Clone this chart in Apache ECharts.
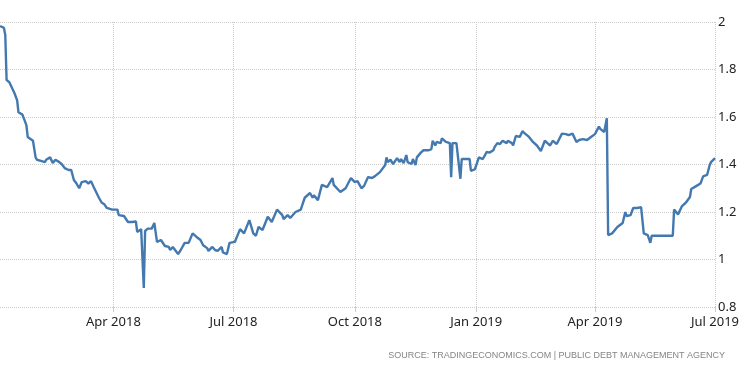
<!DOCTYPE html>
<html>
<head>
<meta charset="utf-8">
<script src="https://cdn.jsdelivr.net/npm/echarts@6/dist/echarts.min.js"></script>
<style>html,body{margin:0;padding:0;background:#fff;}#c{width:750px;height:373px;}</style>
</head>
<body>
<div id="c"></div>
<script>
const dates = [
 '2018-01-05','2018-01-08','2018-01-09','2018-01-10','2018-01-12','2018-01-16','2018-01-18','2018-01-19','2018-01-22','2018-01-25',
 '2018-01-26','2018-01-30','2018-02-01','2018-02-02','2018-02-05','2018-02-08','2018-02-09','2018-02-12','2018-02-14','2018-02-16',
 '2018-02-19','2018-02-21','2018-02-23','2018-02-26','2018-02-28','2018-03-02','2018-03-04','2018-03-06','2018-03-08','2018-03-09',
 '2018-03-11','2018-03-13','2018-03-15','2018-03-17','2018-03-21','2018-03-23','2018-03-25','2018-03-27','2018-03-31','2018-04-04',
 '2018-04-05','2018-04-09','2018-04-12','2018-04-13','2018-04-15','2018-04-18','2018-04-19','2018-04-22','2018-04-23','2018-04-24',
 '2018-04-25','2018-04-27','2018-04-30','2018-05-02','2018-05-04','2018-05-07','2018-05-08','2018-05-10','2018-05-13','2018-05-14',
 '2018-05-16','2018-05-20','2018-05-22','2018-05-25','2018-05-28','2018-05-31','2018-06-03','2018-06-06','2018-06-08','2018-06-11',
 '2018-06-12','2018-06-15','2018-06-17','2018-06-19','2018-06-22','2018-06-23','2018-06-26','2018-06-28','2018-07-02','2018-07-06',
 '2018-07-09','2018-07-13','2018-07-16','2018-07-18','2018-07-20','2018-07-23','2018-07-27','2018-07-30','2018-08-03','2018-08-07',
 '2018-08-08','2018-08-11','2018-08-13','2018-08-17','2018-08-21','2018-08-24','2018-08-28','2018-08-30','2018-08-31','2018-09-03',
 '2018-09-06','2018-09-10','2018-09-11','2018-09-14','2018-09-15','2018-09-20','2018-09-24','2018-09-28','2018-10-01','2018-10-03',
 '2018-10-05','2018-10-06','2018-10-08','2018-10-11','2018-10-14','2018-10-16','2018-10-20','2018-10-24','2018-10-25','2018-10-26',
 '2018-10-28','2018-10-30','2018-11-02','2018-11-04','2018-11-05','2018-11-07','2018-11-09','2018-11-10','2018-11-13','2018-11-14',
 '2018-11-16','2018-11-17','2018-11-20','2018-11-22','2018-11-26','2018-11-28','2018-11-29','2018-12-01','2018-12-02','2018-12-05',
 '2018-12-06','2018-12-09','2018-12-12','2018-12-13','2018-12-14','2018-12-17','2018-12-20','2018-12-21','2018-12-27','2018-12-28',
 '2018-12-31','2019-01-03','2019-01-06','2019-01-09','2019-01-11','2019-01-14','2019-01-15','2019-01-17','2019-01-19','2019-01-21',
 '2019-01-24','2019-01-25','2019-01-28','2019-01-29','2019-01-31','2019-02-03','2019-02-05','2019-02-07','2019-02-10','2019-02-13',
 '2019-02-16','2019-02-19','2019-02-22','2019-02-24','2019-02-26','2019-02-28','2019-03-03','2019-03-07','2019-03-10','2019-03-12',
 '2019-03-15','2019-03-18','2019-03-20','2019-03-23','2019-03-26','2019-03-29','2019-04-01','2019-04-02','2019-04-04','2019-04-05',
 '2019-04-08','2019-04-10','2019-04-11','2019-04-14','2019-04-18','2019-04-22','2019-04-24','2019-04-25','2019-04-28','2019-04-30',
 '2019-05-03','2019-05-06','2019-05-08','2019-05-11','2019-05-13','2019-05-14','2019-05-30','2019-05-31','2019-06-03','2019-06-06',
 '2019-06-09','2019-06-12','2019-06-13','2019-06-17','2019-06-20','2019-06-22','2019-06-25','2019-06-27','2019-06-28','2019-07-01'
];
const yields = [
 1.983,1.975,1.945,1.756,1.747,1.70,1.67,1.62,1.61,1.566,
 1.516,1.50,1.43,1.42,1.415,1.41,1.42,1.43,1.406,1.42,
 1.41,1.40,1.385,1.377,1.377,1.335,1.32,1.30,1.326,1.32,
 1.33,1.32,1.33,1.305,1.26,1.24,1.233,1.217,1.21,1.21,
 1.187,1.183,1.158,1.15,1.158,1.16,1.116,1.128,1.13,0.88,
 1.12,1.13,1.13,1.154,1.074,1.082,1.09,1.057,1.053,1.04,
 1.053,1.023,1.04,1.07,1.07,1.11,1.095,1.082,1.06,1.048,
 1.036,1.053,1.04,1.036,1.053,1.03,1.023,1.07,1.074,1.128,
 1.11,1.166,1.11,1.10,1.137,1.124,1.18,1.158,1.21,1.187,
 1.17,1.187,1.175,1.20,1.21,1.26,1.28,1.26,1.27,1.25,
 1.314,1.305,1.30,1.343,1.314,1.284,1.30,1.343,1.326,1.33,
 1.31,1.30,1.31,1.347,1.343,1.35,1.368,1.398,1.43,1.41,
 1.42,1.402,1.427,1.41,1.423,1.406,1.44,1.41,1.402,1.423,
 1.398,1.43,1.45,1.46,1.46,1.465,1.50,1.48,1.495,1.49,
 1.51,1.495,1.49,1.347,1.49,1.49,1.34,1.423,1.423,1.373,
 1.38,1.43,1.423,1.453,1.45,1.46,1.474,1.49,1.486,1.50,
 1.49,1.50,1.49,1.48,1.52,1.516,1.54,1.53,1.516,1.495,
 1.48,1.457,1.50,1.49,1.48,1.50,1.486,1.53,1.528,1.524,
 1.53,1.495,1.503,1.507,1.503,1.516,1.528,1.53,1.56,1.55,
 1.537,1.595,1.103,1.11,1.137,1.154,1.20,1.183,1.187,1.217,
 1.217,1.22,1.11,1.103,1.07,1.10,1.10,1.21,1.19,1.225,
 1.24,1.263,1.297,1.31,1.32,1.35,1.356,1.398,1.41,1.427
];
const tickDates = ['2018-04-01','2018-07-01','2018-10-01','2019-01-01','2019-04-01','2019-07-01'];
const monthNames = ['Jan','Feb','Mar','Apr','May','Jun','Jul','Aug','Sep','Oct','Nov','Dec'];
const sourceText = 'SOURCE: TRADINGECONOMICS.COM | PUBLIC DEBT MANAGEMENT AGENCY';

const toTime = d => new Date(d + 'T00:00:00Z').getTime();
const chart = echarts.init(document.getElementById('c'), null, {renderer: 'canvas'});
const tickValues = tickDates.map(toTime);
const gridLine = {show: true, lineStyle: {color: '#cccccc', type: 'dotted', width: 1}};
chart.setOption({
  animation: false,
  backgroundColor: '#fff',
  title: {
    text: sourceText, right: 25, top: 351, padding: 0,
    textStyle: {fontSize: 9, color: '#858585', fontWeight: 'normal', fontFamily: 'Liberation Sans'}
  },
  grid: {left: 0, right: 35, top: 22, bottom: 66},
  xAxis: {
    type: 'value',
    min: toTime('2018-01-05'),
    max: toTime('2019-07-01'),
    axisLine: {show: false},
    axisTick: {show: true, length: 5, customValues: tickValues, lineStyle: {color: '#cccccc'}},
    splitLine: gridLine,
    axisLabel: {
      customValues: tickValues, margin: 9, color: '#222', fontSize: 13, fontFamily: 'Noto Sans',
      formatter: v => { const d = new Date(v); return monthNames[d.getUTCMonth()] + ' ' + d.getUTCFullYear(); }
    }
  },
  yAxis: {
    type: 'value', position: 'right', min: 0.8, max: 2, interval: 0.2,
    axisLine: {show: false}, axisTick: {show: false},
    splitLine: gridLine,
    axisLabel: {margin: 3, color: '#222', fontSize: 13, fontFamily: 'Noto Sans', align: 'left'}
  },
  series: [{
    type: 'line',
    data: dates.map((d, i) => [toTime(d), yields[i]]),
    showSymbol: false,
    lineStyle: {color: '#4479b0', width: 2.4},
    itemStyle: {color: '#4479b0'}
  }]
});
</script>
</body>
</html>
